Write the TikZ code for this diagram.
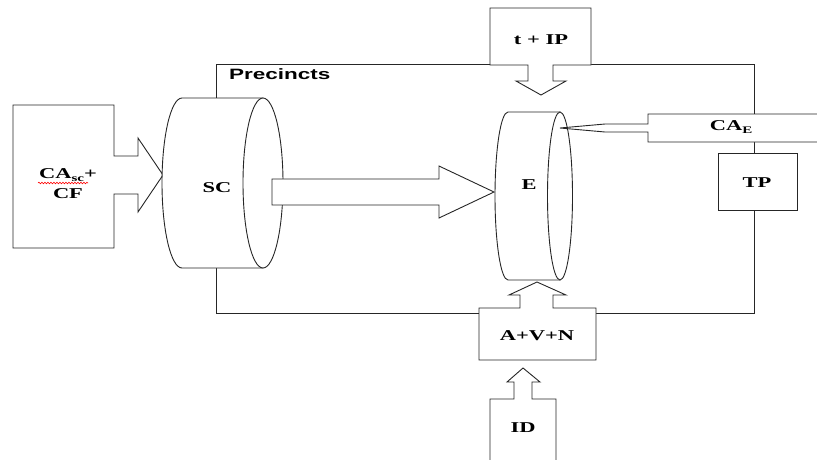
\documentclass[tikz,border=0pt]{standalone}
\usepackage{fontspec}
\newfontfamily\wideserif[FakeStretch=1.5]{Liberation Serif}
\newfontfamily\widesans[FakeStretch=1.5]{Liberation Sans}
\newcommand{\lowsub}[1]{\raisebox{-2.5pt}{\fontsize{10}{10}\selectfont #1}}
\usetikzlibrary{positioning,decorations.pathmorphing}

\begin{document}
\begin{tikzpicture}[x=1pt,y=-1pt]
    % pixel grid of the reference: x to the right, y downwards
    \tikzset{outline/.style = {draw=black!85, line width=0.9pt, fill=white}}
    \tikzset{tag/.style = {font=\wideserif\bfseries\fontsize{15}{20}\selectfont, inner sep=0pt}}
    \tikzset{areatag/.style = {font=\widesans\bfseries\fontsize{15}{18}\selectfont, inner sep=0pt}}
    \useasboundingbox (0,0) rectangle (817,459);

    % precincts
    \draw[outline, fill=none] (216,64) rectangle (754,313);
    \node[areatag, anchor=west] (precincts) at (229,74) {Precincts};

    % CA_sc + CF, pushing into SC
    \draw[outline] (13,105) -- (114,105) -- (114,156) -- (138,156) -- (138,138)
        -- (163,175) -- (138,212) -- (138,194) -- (114,194) -- (114,248)
        -- (13,248) -- cycle;
    \node[tag, align=center] (cascf) at (68,184) {CA\lowsub{sc}+\\CF};
    \draw[red, line width=0.6pt, decorate,
          decoration={snake, amplitude=0.8pt, segment length=3pt}]
        (38,183) -- (88,183);

    % SC cylinder
    \draw[outline] (263,98) -- (182,98)
        arc[start angle=90, end angle=270, x radius=20pt, y radius=85pt]
        -- (263,268) -- cycle;
    \draw[outline] (263,183) ellipse [x radius=20pt, y radius=85pt];
    \node[tag] (sc) at (217,188) {SC};

    % E cylinder
    \draw[outline] (560,112) -- (508,112)
        arc[start angle=90, end angle=270, x radius=13pt, y radius=84pt]
        -- (560,280) -- cycle;
    \draw[outline] (560,196) ellipse [x radius=12.5pt, y radius=84pt];
    \node[tag] (e) at (529,185) {E};

    % SC -> E
    \draw[outline] (272,179) -- (439,179) -- (439,166) -- (494,192)
        -- (439,218) -- (439,205) -- (272,205) -- cycle;

    % t + IP, pushing down
    \draw[outline] (490,8) -- (591,8) -- (591,65) -- (553,65) -- (553,81)
        -- (566,81) -- (541,95) -- (516,81) -- (528,81) -- (528,65)
        -- (490,65) -- cycle;
    \node[tag] (tip) at (541,40) {t + IP};

    % CA_E, pointing at E
    \draw[outline] (817,114) -- (648,114) -- (648,124) -- (605,124) -- (560,128)
        -- (605,132) -- (648,132) -- (648,142) -- (817,142);
    \node[tag] (cae) at (731,127) {CA\lowsub{E}};

    % TP
    \draw[outline] (718,153) rectangle (797,210);
    \node[tag] (tp) at (757,183) {TP};

    % A+V+N, pushing up into E
    \draw[outline] (479,308) -- (520,308) -- (520,295) -- (509,295) -- (537,282)
        -- (566,295) -- (553,295) -- (553,308) -- (596,308) -- (596,360)
        -- (479,360) -- cycle;
    \node[tag] (avn) at (537,336) {A+V+N};

    % ID, pushing up into A+V+N
    \draw[outline] (490,460) -- (490,399) -- (514,399) -- (514,382) -- (507,382)
        -- (523,368) -- (540,382) -- (532,382) -- (532,399) -- (556,399)
        -- (556,460);
    \node[tag] (id) at (523,428) {ID};
\end{tikzpicture}
\end{document}
